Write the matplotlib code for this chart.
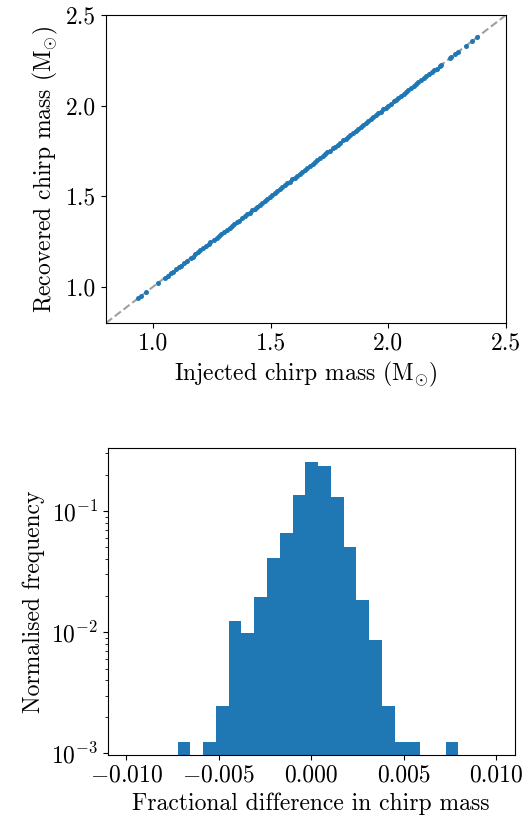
import numpy as np
import matplotlib
matplotlib.use("Agg")
import matplotlib.pyplot as plt

plt.rcParams['font.family'] = ['cmr10', 'DejaVu Serif']
plt.rcParams['mathtext.fontset'] = 'cm'
plt.rcParams['axes.formatter.use_mathtext'] = True
plt.rcParams['font.size'] = 17
plt.rcParams['axes.unicode_minus'] = True

# ---- Data: scatter (injected vs recovered chirp mass) ----
injected = [0.935, 0.948, 0.970, 1.020, 1.050, 1.062, 1.075, 1.083, 1.097, 1.110,
            1.118, 1.130, 1.145, 1.160, 1.168, 1.180, 1.192, 1.200, 1.213, 1.225,
            1.236, 1.244, 1.258, 1.270, 1.281, 1.290, 1.302, 1.313, 1.325, 1.334,
            1.346, 1.357, 1.366, 1.378, 1.389, 1.398, 1.410, 1.421, 1.432, 1.441,
            1.453, 1.464, 1.475, 1.483, 1.495, 1.506, 1.517, 1.526, 1.538, 1.549,
            1.560, 1.569, 1.581, 1.592, 1.603, 1.612, 1.624, 1.635, 1.646, 1.655,
            1.667, 1.678, 1.689, 1.698, 1.710, 1.721, 1.732, 1.741, 1.753, 1.764,
            1.775, 1.784, 1.796, 1.807, 1.818, 1.827, 1.839, 1.850, 1.861, 1.870,
            1.882, 1.893, 1.904, 1.913, 1.925, 1.936, 1.947, 1.956, 1.968, 1.979,
            1.990, 1.999, 2.011, 2.022, 2.033, 2.042, 2.054, 2.065, 2.076, 2.085,
            2.097, 2.108, 2.119, 2.128, 2.140, 2.151, 2.162, 2.172, 2.185, 2.196,
            2.205, 2.218, 2.224, 2.260, 2.268, 2.282, 2.297, 2.330, 2.355, 2.378]
recovered = [0.936, 0.947, 0.971, 1.019, 1.051, 1.061, 1.076, 1.084, 1.096, 1.111,
             1.117, 1.131, 1.144, 1.161, 1.167, 1.181, 1.191, 1.201, 1.212, 1.226,
             1.235, 1.245, 1.257, 1.271, 1.280, 1.291, 1.301, 1.314, 1.324, 1.335,
             1.345, 1.358, 1.365, 1.379, 1.388, 1.399, 1.409, 1.422, 1.431, 1.442,
             1.452, 1.465, 1.474, 1.484, 1.494, 1.507, 1.516, 1.527, 1.537, 1.550,
             1.559, 1.570, 1.580, 1.593, 1.602, 1.613, 1.623, 1.636, 1.645, 1.656,
             1.666, 1.679, 1.688, 1.699, 1.709, 1.722, 1.731, 1.742, 1.752, 1.765,
             1.774, 1.785, 1.795, 1.808, 1.817, 1.828, 1.838, 1.851, 1.860, 1.871,
             1.881, 1.894, 1.903, 1.914, 1.924, 1.937, 1.946, 1.957, 1.967, 1.980,
             1.989, 2.000, 2.010, 2.023, 2.032, 2.043, 2.053, 2.066, 2.075, 2.086,
             2.096, 2.109, 2.118, 2.129, 2.139, 2.152, 2.161, 2.173, 2.184, 2.197,
             2.204, 2.219, 2.223, 2.261, 2.267, 2.283, 2.296, 2.331, 2.354, 2.379]

# ---- Data: histogram of fractional difference ----
bin_edges = [-0.00722, -0.00653, -0.00584, -0.00515, -0.00446, -0.00377, -0.00308,
             -0.00239, -0.00170, -0.00101, -0.00032, 0.00037, 0.00106, 0.00175,
             0.00244, 0.00313, 0.00382, 0.00451, 0.00520, 0.00589, 0.00658,
             0.00727, 0.00796]
norm_freq = [0.00124, 0.0, 0.00124, 0.00248, 0.0124, 0.0099, 0.0196, 0.0406,
             0.0657, 0.1355, 0.255, 0.235, 0.1297, 0.0505, 0.0184, 0.0086,
             0.00248, 0.00124, 0.00124, 0.0, 0.0, 0.00124]
hist_xticks = [-0.010, -0.005, 0.0, 0.005, 0.010]
hist_xticklabels = [r'$-$0.010', r'$-$0.005', '0.000', '0.005', '0.010']

fig = plt.figure(figsize=(5.32, 8.27), dpi=100)
W, H = 532, 827

ax1 = fig.add_axes([106 / W, 1 - 323 / H, 400 / W, 308 / H])
ax1.plot([0.8, 2.5], [0.8, 2.5], ls='--', color='grey', alpha=0.75, lw=1.5, zorder=1)
ax1.scatter(injected, recovered, s=13, color='#1f77b4', zorder=2, linewidths=0)
ax1.set_xlim(0.8, 2.5)
ax1.set_ylim(0.8, 2.5)
ax1.set_xticks([1.0, 1.5, 2.0, 2.5])
ax1.set_yticks([1.0, 1.5, 2.0, 2.5])
ax1.set_xticklabels(['1.0', '1.5', '2.0', '2.5'])
ax1.set_yticklabels(['1.0', '1.5', '2.0', '2.5'])
ax1.set_xlabel(r'Injected chirp mass (M$_{\odot}$)')
ax1.set_ylabel(r'Recovered chirp mass (M$_{\odot}$)')

ax2 = fig.add_axes([107.7 / W, 1 - 755 / H, 407 / W, 307.3 / H])
centers = [(a + b) / 2 for a, b in zip(bin_edges[:-1], bin_edges[1:])]
ax2.hist(centers, bins=bin_edges, weights=norm_freq, color='#1f77b4')
ax2.set_yscale('log')
ax2.set_ylim(0.00097, 0.333)
ax2.set_xlim(-0.011, 0.011)
ax2.set_xticks(hist_xticks)
ax2.set_xticklabels(hist_xticklabels)
ax2.set_xlabel('Fractional difference in chirp mass')
ax2.set_ylabel('Normalised frequency')

fig.savefig('out.png', dpi=100)
